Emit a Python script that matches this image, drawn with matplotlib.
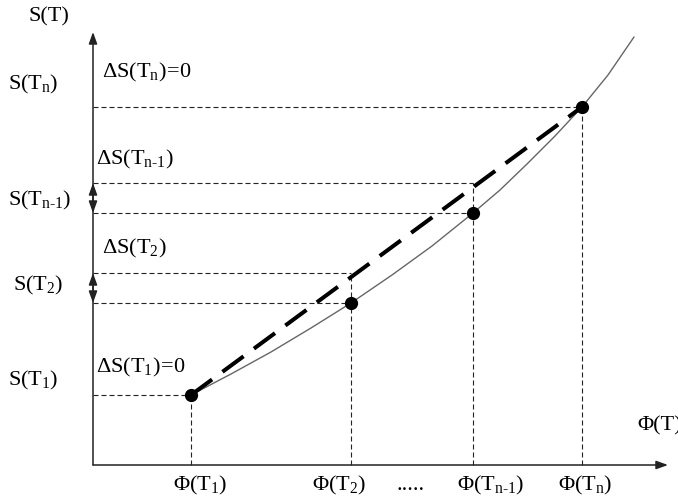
import matplotlib
matplotlib.use("Agg")
import matplotlib.pyplot as plt

plt.rcParams['mathtext.fontset'] = 'custom'
plt.rcParams['mathtext.rm'] = 'Liberation Serif'
plt.rcParams['mathtext.it'] = 'Liberation Serif:italic'
plt.rcParams['font.family'] = ['Liberation Serif', 'DejaVu Serif']

# ---- data (schematic units; origin at axis corner) ----
phi = [98, 258, 380, 489]                 # Φ(T1), Φ(T2), Φ(Tn-1), Φ(Tn)
S_pts = [70, 162, 252, 358]               # S(T1), S(T2), S(Tn-1), S(Tn)
chord_levels = [70, 192, 282, 358]        # level of the dashed chord at each Φ
curve_x = [98, 138, 178, 218, 258, 299, 339, 380, 407, 434, 462, 489, 515, 541]
curve_y = [70, 91, 113, 137, 162, 190, 219, 252, 275, 301, 329, 358, 390, 428]

phi_labels = [r'$\mathrm{Φ(T_1)}$', r'$\mathrm{Φ(T_2)}$',
              r'$\mathrm{Φ(T_{n\text{-}1})}$', r'$\mathrm{Φ(T_n)}$']
S_labels = [r'$\mathrm{S(T_1)}$', r'$\mathrm{S(T_2)}$',
            r'$\mathrm{S(T_{n\text{-}1})}$', r'$\mathrm{S(T_n)}$']
dS_labels = [r'$\mathrm{ΔS(T_1)\!=\!0}$', r'$\mathrm{ΔS(T_2)}$',
             r'$\mathrm{ΔS(T_{n\text{-}1})}$', r'$\mathrm{ΔS(T_n)\!=\!0}$']

# ---- layout ----
fig = plt.figure(figsize=(6.78, 4.96), dpi=100)
ax = fig.add_axes([0, 0, 1, 1])
ax.set_xlim(-93, 585)
ax.set_ylim(-31, 465)
ax.axis('off')

FS = 16
thin_dash = (0, (4.5, 2.7))

# axes with arrows
arrow_kw = dict(arrowstyle='-|>,head_length=0.5,head_width=0.18',
                mutation_scale=14, color='#222222', lw=1.1,
                shrinkA=0, shrinkB=0)
ax.annotate('', xy=(0, 433), xytext=(0, 0), arrowprops=arrow_kw)
ax.annotate('', xy=(575, 0), xytext=(0, 0), arrowprops=arrow_kw)

# dashed helper lines
for p, s, c in zip(phi, S_pts, chord_levels):
    ax.plot([0, p], [s, s], color='#222222', lw=0.8, ls=thin_dash)
    top = max(s, c)
    ax.plot([p, p], [0, top], color='#222222', lw=0.8, ls=thin_dash)
    if c != s:
        ax.plot([0, p], [c, c], color='#222222', lw=0.8, ls=thin_dash)

# double arrows on the S axis for ΔS
darrow_kw = dict(arrowstyle='<|-|>,head_length=0.5,head_width=0.18',
                 mutation_scale=14, color='#222222', lw=1.1,
                 shrinkA=0, shrinkB=0)
for s, c in zip(S_pts, chord_levels):
    if c != s:
        ax.annotate('', xy=(0, c), xytext=(0, s), arrowprops=darrow_kw)

# curve S = f(Φ)
ax.plot(curve_x, curve_y, color='#666666', lw=1.0, solid_capstyle='round',
        solid_joinstyle='round')

# chord (bold dashed)
ax.plot([phi[0], phi[-1]], [S_pts[0], S_pts[-1]], color='black', lw=2.9,
        ls=(0, (6.5, 3.2)))

# points
ax.plot(phi, S_pts, 'o', color='black', ms=8.5)

# ---- text ----
px = lambda x: x - 93
py = lambda y: 465 - y

ax.text(px(28), py(21), 'S(T)', fontsize=FS, va='baseline', ha='left')
ax.text(px(637), py(430), 'Φ(T)', fontsize=FS, va='baseline', ha='left')

S_lab_pos = [(8, 385), (13, 290), (8, 205), (8, 89)]
dS_lab_pos = [(96, 372), (102, 253), (96, 164), (102, 77)]
phi_lab_pos = [173, 312, 457, 558]

for lab, (x, y) in zip(S_labels, S_lab_pos):
    ax.text(px(x), py(y), lab, fontsize=FS, va='baseline', ha='left')
for lab, (x, y) in zip(dS_labels, dS_lab_pos):
    ax.text(px(x), py(y), lab, fontsize=FS, va='baseline', ha='left')
for lab, x in zip(phi_labels, phi_lab_pos):
    ax.text(px(x), py(490), lab, fontsize=FS, va='baseline', ha='left')
ax.text(px(397), py(490), '.....', fontsize=FS, va='baseline', ha='left')

fig.savefig('out.png', dpi=100)
